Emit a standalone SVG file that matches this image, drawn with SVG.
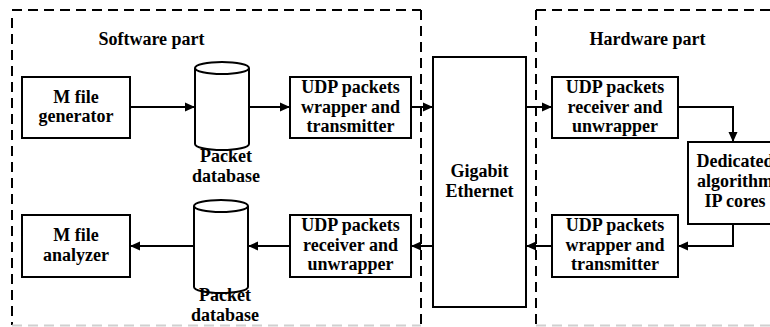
<svg xmlns="http://www.w3.org/2000/svg" width="770" height="327" viewBox="0 0 770 327">
<style>
.box{fill:#fff;stroke:#000;stroke-width:2}
.dash{fill:none;stroke:#000;stroke-width:2;stroke-dasharray:10,6}
.dashb{fill:none;stroke:#d0d0d0;stroke-width:2;stroke-dasharray:10,6}
.t{font-family:'Liberation Serif','DejaVu Serif',serif;font-weight:bold;font-size:18px;text-anchor:middle;fill:#000}
.c{fill:none;stroke:#000;stroke-width:2}
</style>
<defs>
<marker id="ah" markerWidth="10" markerHeight="10" refX="10" refY="5" orient="auto" markerUnits="userSpaceOnUse">
<path d="M0,0.5 L10,5 L0,9.5 Z" fill="#000"/>
</marker>
</defs>
<g id="software-part">
<path class="dash" d="M12,10 H421 M12,18 V325 M421,10 V325"/>
<path class="dashb" d="M12,325.5 H421"/>
<text class="t" x="151.5" y="45">Software part</text>
</g>
<g id="hardware-part">
<path class="dash" d="M536,10 H770 M536,10 V325"/>
<path class="dashb" d="M536,325.5 H770"/>
<text class="t" x="647.5" y="45">Hardware part</text>
</g>
<g id="m-file-generator">
<rect class="box" x="22" y="77" width="108" height="61"/>
<text class="t" x="76" y="103">M file</text>
<text class="t" x="76" y="122">generator</text>
</g>
<g id="packet-database-1">
<path class="box" d="M195,68 V144 A27,6 0 0 0 249,144 V68"/>
<ellipse class="box" cx="222" cy="68" rx="27" ry="6"/>
<text class="t" x="226" y="162">Packet</text>
<text class="t" x="226" y="182">database</text>
</g>
<g id="udp-wrapper-sw">
<rect class="box" x="290" y="77" width="121" height="61"/>
<text class="t" x="350.5" y="93">UDP packets</text>
<text class="t" x="350.5" y="113">wrapper and</text>
<text class="t" x="350.5" y="132">transmitter</text>
</g>
<g id="gigabit-ethernet">
<rect class="box" x="433" y="57" width="93" height="250"/>
<text class="t" x="479.5" y="177">Gigabit</text>
<text class="t" x="479.5" y="197">Ethernet</text>
</g>
<g id="udp-receiver-hw">
<rect class="box" x="552" y="77" width="126" height="61"/>
<text class="t" x="615" y="93">UDP packets</text>
<text class="t" x="615" y="113">receiver and</text>
<text class="t" x="615" y="132">unwrapper</text>
</g>
<g id="dedicated-ip-cores">
<rect class="box" x="688" y="142" width="94" height="82"/>
<text class="t" x="735" y="167">Dedicated</text>
<text class="t" x="735" y="187">algorithm</text>
<text class="t" x="735" y="207">IP cores</text>
</g>
<g id="udp-wrapper-hw">
<rect class="box" x="552" y="215" width="126" height="62"/>
<text class="t" x="615" y="231">UDP packets</text>
<text class="t" x="615" y="251">wrapper and</text>
<text class="t" x="615" y="270">transmitter</text>
</g>
<g id="udp-receiver-sw">
<rect class="box" x="290" y="215" width="121" height="62"/>
<text class="t" x="350.5" y="231">UDP packets</text>
<text class="t" x="350.5" y="251">receiver and</text>
<text class="t" x="350.5" y="270">unwrapper</text>
</g>
<g id="packet-database-2">
<path class="box" d="M194,206 V287 A27,6 0 0 0 248,287 V206"/>
<ellipse class="box" cx="221" cy="206" rx="27" ry="6"/>
<text class="t" x="225" y="301">Packet</text>
<text class="t" x="225" y="321">database</text>
</g>
<g id="m-file-analyzer">
<rect class="box" x="22" y="215" width="108" height="62"/>
<text class="t" x="76" y="241">M file</text>
<text class="t" x="76" y="261">analyzer</text>
</g>
<g id="connectors">
<path class="c" marker-end="url(#ah)" d="M130,107 H195"/>
<path class="c" marker-end="url(#ah)" d="M249,107 H290"/>
<path class="c" marker-end="url(#ah)" d="M411,107 H433"/>
<path class="c" marker-end="url(#ah)" d="M526,107 H552"/>
<path class="c" marker-end="url(#ah)" d="M678,107 H733 V142"/>
<path class="c" marker-end="url(#ah)" d="M733,224 V246 H678"/>
<path class="c" marker-end="url(#ah)" d="M552,246 H526"/>
<path class="c" marker-end="url(#ah)" d="M433,246 H411"/>
<path class="c" marker-end="url(#ah)" d="M290,246 H248"/>
<path class="c" marker-end="url(#ah)" d="M194,246 H130"/>
</g>
</svg>
